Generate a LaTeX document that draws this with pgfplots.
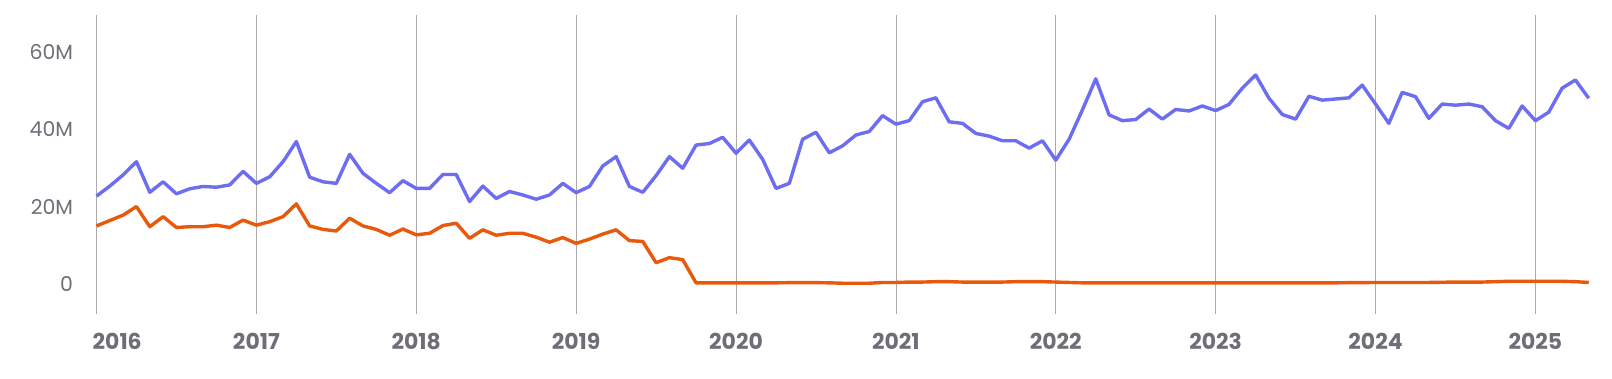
\documentclass[border=0pt]{standalone}
\usepackage{fontspec}
\setmainfont{Poppins}
\usepackage{pgfplots}
\usepackage{pgfplotstable}
\pgfplotsset{compat=1.18}
\definecolor{blueline}{HTML}{6D6DF2}
\definecolor{orangeline}{HTML}{E8590C}
\definecolor{gridgray}{HTML}{ABABAB}
\definecolor{labelgray}{HTML}{6E6E78}
\pgfplotstableread{
v
22.7
25.3
28.2
31.6
23.7
26.4
23.3
24.6
25.2
25.0
25.6
29.1
26.0
27.7
31.6
36.8
27.6
26.4
26.0
33.5
28.6
26.0
23.6
26.7
24.7
24.7
28.3
28.3
21.3
25.3
22.1
23.9
23.0
21.9
23.0
26.0
23.6
25.2
30.5
32.9
25.2
23.7
28.0
32.9
29.9
35.9
36.3
37.9
33.8
37.2
32.2
24.7
26.0
37.4
39.2
33.9
35.7
38.5
39.4
43.5
41.3
42.2
47.1
48.1
41.9
41.5
38.9
38.2
37.0
37.0
35.1
37.0
32.0
37.4
45.0
53.0
43.7
42.2
42.5
45.2
42.6
45.1
44.7
46.0
44.8
46.4
50.6
54.0
48.0
43.8
42.6
48.5
47.5
47.8
48.1
51.4
46.5
41.5
49.5
48.4
42.8
46.5
46.2
46.5
45.8
42.2
40.2
46.0
42.2
44.4
50.6
52.7
48.0
}\bluedata
\pgfplotstableread{
v
15.0
16.4
17.8
20.0
14.8
17.4
14.6
14.8
14.8
15.2
14.6
16.5
15.2
16.1
17.4
20.7
15.0
14.1
13.7
17.0
15.0
14.1
12.6
14.2
12.7
13.1
15.1
15.7
11.8
14.0
12.6
13.1
13.1
12.1
10.8
12.0
10.5
11.6
12.9
14.0
11.2
11.0
5.5
6.8
6.3
0.3
0.3
0.3
0.3
0.3
0.3
0.3
0.35
0.35
0.35
0.3
0.2
0.2
0.2
0.4
0.4
0.5
0.5
0.6
0.6
0.5
0.5
0.5
0.5
0.6
0.6
0.6
0.5
0.4
0.3
0.3
0.3
0.3
0.3
0.3
0.3
0.3
0.3
0.3
0.3
0.3
0.3
0.3
0.3
0.3
0.3
0.3
0.3
0.3
0.35
0.35
0.4
0.4
0.4
0.4
0.4
0.45
0.5
0.5
0.5
0.6
0.7
0.7
0.7
0.7
0.7
0.6
0.4
}\orangedata
\begin{document}
\begin{tikzpicture}
\useasboundingbox (0,0) rectangle (1612bp,379bp);
\begin{axis}[
  at={(96.5bp,65bp)}, anchor=south west,
  scale only axis,
  width=1492.2bp, height=299bp,
  xmin=0, xmax=112,
  ymin=-7.75, ymax=69.5,
  axis line style={draw=none},
  xtick={0,12,...,108},
  xticklabels={\makebox[0pt][l]{\hspace{-3.8bp}2016},2017,2018,2019,2020,2021,2022,2023,2024,2025},
  ytick={0,20,40,60},
  yticklabels={0,20M,40M,60M},
  xmajorgrids,
  grid style={gridgray, line width=0.8bp},
  major tick length=0pt,
  tick style={draw=none},
  xticklabel style={font=\fontsize{22}{24}\selectfont\bfseries, text=labelgray, anchor=base, yshift=-35bp},
  yticklabel style={font=\fontsize{20.5}{22}\selectfont, text=labelgray, xshift=-20bp},
  clip=false,
]
\addplot[orangeline, line width=3.4bp, line join=round] table[x expr=\coordindex, y=v] {\orangedata};
\addplot[blueline, line width=3.4bp, line join=round] table[x expr=\coordindex, y=v] {\bluedata};
\end{axis}
\end{tikzpicture}
\end{document}
